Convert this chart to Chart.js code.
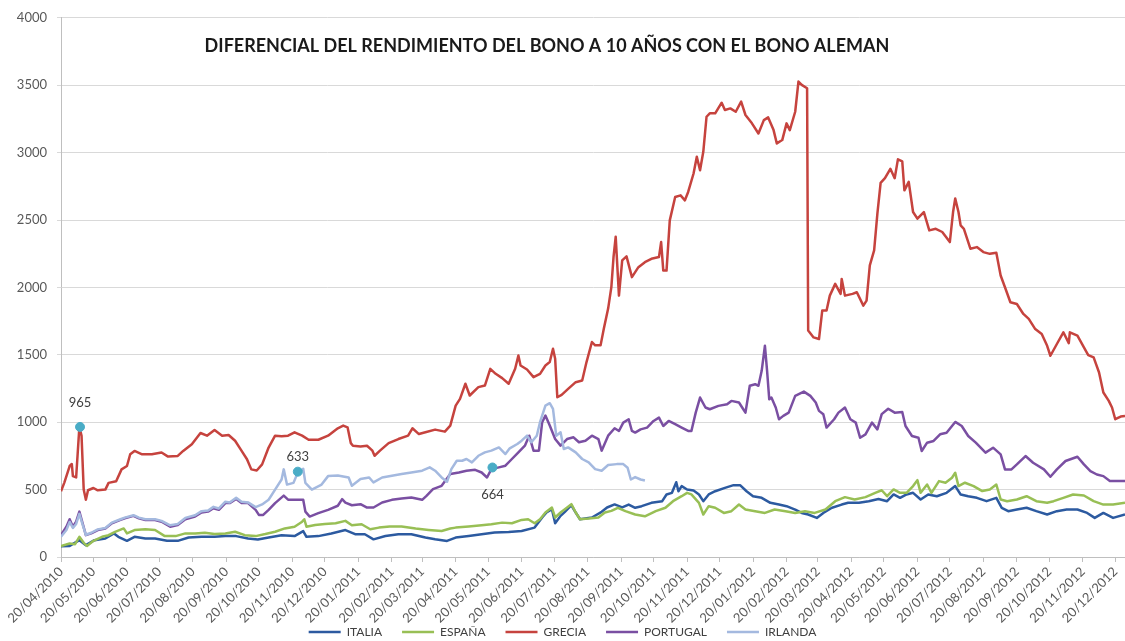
<!DOCTYPE html>
<html>
<head>
<meta charset="utf-8">
<script src="https://cdn.jsdelivr.net/npm/chart.js@4.4.1/dist/chart.umd.min.js"></script>
<style>
  html, body { margin: 0; padding: 0; background: #fff; }
  #wrap { width: 1125px; height: 641px; }
</style>
</head>
<body>
<div id="wrap"><canvas id="spreadChart" width="1125" height="641"></canvas></div>
<script>
// Chart title (drawn inside the plot area)
const chartTitle = 'DIFERENCIAL DEL RENDIMIENTO DEL BONO A 10 AÑOS CON EL BONO ALEMAN';

// X axis: days counted from the first tick date
const startDate = '20/04/2010';
const tickLabels = [
    '20/04/2010', '20/05/2010', '20/06/2010', '20/07/2010', '20/08/2010', '20/09/2010',
    '20/10/2010', '20/11/2010', '20/12/2010', '20/01/2011', '20/02/2011', '20/03/2011',
    '20/04/2011', '20/05/2011', '20/06/2011', '20/07/2011', '20/08/2011', '20/09/2011',
    '20/10/2011', '20/11/2011', '20/12/2011', '20/01/2012', '20/02/2012', '20/03/2012',
    '20/04/2012', '20/05/2012', '20/06/2012', '20/07/2012', '20/08/2012', '20/09/2012',
    '20/10/2012', '20/11/2012', '20/12/2012'
];
const lastDay = 984;

// Y axis
const yMin = 0;
const yMax = 4000;
const yStep = 500;

const seriesNames = ['ITALIA', 'ESPAÑA', 'GRECIA', 'PORTUGAL', 'IRLANDA'];

// [day since 20/04/2010, spread in basis points]
const italia = [
    [0,80],[8,82],[17,125],[23,88],[31,125],[41,137],[49,175],[53,150],[61,120],[68,150],[78,137],[87,137],
    [98,120],[108,120],[118,145],[130,150],[142,150],[152,155],[162,155],[173,137],[182,130],[192,145],[204,162],
    [216,155],[224,192],[227,150],[238,155],[250,175],[263,200],[272,169],[281,169],[289,131],[300,156],[312,169],
    [324,169],[337,144],[346,131],[357,119],[365,144],[377,156],[389,169],[401,181],[414,186],[426,193],[438,218],
    [445,293],[449,330],[454,355],[457,250],[462,305],[466,335],[472,384],[476,330],[480,280],[491,293],[500,335],
    [505,367],[512,390],[519,368],[525,389],[531,365],[537,377],[546,402],[556,414],[560,464],[565,476],[569,555],
    [571,488],[574,526],[579,501],[585,494],[590,464],[594,414],[599,464],[605,488],[614,513],[622,533],[628,533],
    [634,488],[640,451],[648,439],[656,402],[664,389],[671,377],[679,352],[685,327],[691,315],[699,290],[705,327],
    [713,365],[722,389],[728,402],[738,402],[747,414],[756,430],[764,414],[770,464],[776,439],[782,464],[788,476],
    [795,427],[802,464],[810,451],[819,476],[827,526],[832,464],[839,451],[847,439],[856,414],[865,439],[870,365],
    [876,340],[884,352],[893,365],[902,340],[912,315],[921,340],[930,352],[940,352],[949,327],[956,290],[964,327],
    [973,290],[984,315]
];
const espana = [
    [0,82],[8,100],[13,95],[17,150],[21,105],[24,82],[30,120],[38,150],[44,162],[50,187],[58,212],[61,175],
    [68,200],[78,205],[87,200],[96,155],[106,155],[115,175],[124,175],[133,180],[142,170],[152,175],[161,187],
    [170,162],[180,155],[189,170],[198,187],[207,212],[216,225],[223,262],[225,280],[227,225],[235,237],[244,245],
    [254,250],[263,268],[269,235],[278,243],[286,206],[294,218],[304,226],[315,226],[328,211],[340,201],[352,193],
    [360,211],[365,218],[377,226],[389,235],[398,243],[408,255],[417,250],[426,275],[432,280],[438,250],[443,280],
    [448,330],[454,367],[457,293],[462,330],[466,355],[472,392],[476,330],[480,280],[488,285],[497,293],[503,330],
    [509,342],[515,365],[522,340],[531,315],[540,302],[550,340],[559,365],[566,414],[574,451],[579,476],[583,464],
    [590,402],[594,315],[599,377],[605,365],[613,327],[620,340],[627,389],[633,352],[642,340],[651,327],[660,352],
    [670,340],[679,327],[688,340],[697,327],[707,352],[716,414],[725,444],[734,427],[744,444],[753,476],[759,495],
    [764,451],[770,501],[776,476],[782,476],[788,526],[792,570],[795,476],[801,538],[805,476],[812,563],[818,551],
    [824,588],[827,625],[830,526],[836,551],[844,526],[852,489],[859,501],[865,538],[869,427],[875,414],[884,427],
    [893,451],[902,414],[912,402],[918,414],[927,439],[936,464],[946,456],[955,414],[964,389],[973,389],[984,402]
];
const grecia = [
    [0,488],[3,550],[8,675],[10,690],[11,600],[14,590],[17,965],[19,900],[21,500],[23,425],[25,495],[30,512],
    [34,495],[41,500],[44,550],[51,562],[56,650],[61,675],[64,762],[68,787],[75,762],[84,762],[93,775],[99,745],
    [108,750],[113,787],[121,837],[129,920],[135,900],[142,942],[149,900],[155,905],[161,862],[166,800],[172,725],
    [176,650],[181,642],[186,687],[192,812],[198,900],[204,895],[210,900],[216,925],[223,900],[229,870],[238,870],
    [247,900],[256,955],[261,975],[265,962],[268,845],[270,825],[277,820],[283,825],[288,789],[290,751],[295,789],
    [303,845],[312,875],[321,900],[325,955],[331,912],[337,925],[346,945],[355,930],[360,975],[365,1123],[369,1173],
    [374,1285],[378,1198],[386,1260],[392,1272],[397,1396],[402,1359],[408,1327],[414,1285],[420,1396],[423,1495],
    [425,1421],[431,1391],[437,1334],[443,1359],[448,1421],[452,1446],[455,1545],[457,1470],[459,1185],[463,1203],
    [469,1247],[476,1297],[482,1309],[486,1446],[491,1595],[494,1570],[499,1570],[502,1694],[506,1843],[509,2004],
    [511,2227],[513,2376],[516,1939],[519,2200],[523,2230],[528,2076],[534,2150],[540,2187],[546,2212],[553,2225],
    [555,2336],[557,2125],[560,2125],[563,2497],[568,2671],[573,2683],[577,2646],[580,2708],[585,2845],[588,2969],
    [591,2869],[594,3006],[597,3266],[600,3291],[605,3291],[611,3370],[614,3316],[619,3328],[624,3303],[629,3378],
    [633,3279],[639,3217],[645,3142],[650,3241],[654,3261],[659,3167],[662,3068],[667,3093],[671,3217],[674,3167],
    [679,3303],[682,3527],[685,3502],[690,3477],[691,1680],[696,1629],[701,1617],[704,1828],[708,1828],[711,1939],
    [716,2026],[721,1952],[722,2063],[725,1939],[732,1952],[736,1964],[742,1865],[745,1902],[748,2163],[752,2274],
    [755,2547],[758,2775],[762,2810],[767,2880],[771,2810],[774,2950],[778,2935],[780,2720],[784,2783],[788,2559],
    [792,2510],[798,2559],[803,2423],[809,2435],[815,2411],[822,2336],[825,2559],[827,2659],[830,2559],[832,2460],
    [835,2435],[841,2287],[847,2299],[853,2262],[859,2249],[865,2257],[869,2088],[873,2001],[878,1890],[884,1877],
    [890,1803],[895,1766],[901,1691],[907,1654],[912,1567],[915,1493],[921,1580],[927,1667],[932,1587],[933,1667],
    [940,1642],[946,1555],[950,1498],[955,1481],[960,1369],[964,1220],[969,1158],[972,1109],[975,1022],[980,1042],
    [984,1047]
];
const portugal = [
    [0,162],[5,225],[8,280],[11,225],[14,262],[17,337],[20,250],[23,162],[28,175],[34,200],[41,212],[47,250],
    [55,275],[59,287],[67,305],[72,287],[78,275],[87,275],[93,262],[101,225],[108,237],[115,280],[124,300],[130,330],
    [136,337],[141,362],[146,350],[152,400],[156,400],[162,430],[167,400],[173,400],[180,350],[183,312],[187,312],
    [192,350],[198,400],[206,455],[210,425],[216,425],[224,425],[226,337],[230,300],[238,325],[247,350],[256,380],
    [260,429],[263,404],[269,384],[277,392],[283,367],[289,367],[297,404],[306,424],[315,434],[324,441],[334,424],
    [338,454],[344,503],[352,528],[360,615],[368,627],[375,640],[383,647],[389,627],[394,590],[398,652],[405,665],
    [411,677],[417,727],[423,776],[429,826],[433,900],[437,789],[442,789],[445,1000],[448,1049],[452,975],[457,875],
    [462,826],[468,875],[474,888],[479,851],[485,863],[491,900],[497,875],[500,789],[506,900],[512,955],[516,935],
    [520,997],[525,1022],[528,935],[531,923],[536,947],[542,960],[548,1009],[553,1034],[557,972],[562,1009],[568,985],
    [574,960],[580,935],[583,935],[587,1071],[591,1183],[596,1109],[600,1096],[608,1121],[616,1133],[620,1158],
    [627,1146],[631,1096],[633,1071],[637,1270],[642,1282],[645,1270],[648,1381],[651,1567],[653,1381],[655,1170],
    [657,1183],[661,1109],[664,1022],[668,1047],[673,1071],[679,1195],[687,1227],[693,1195],[698,1146],[701,1084],
    [705,1059],[708,960],[715,1022],[719,1071],[725,1109],[730,1022],[735,997],[739,885],[744,910],[750,997],
    [755,947],[759,1060],[765,1100],[771,1071],[778,1075],[781,972],[787,898],[793,885],[796,786],[801,848],
    [807,861],[813,910],[819,922],[827,1002],[833,972],[839,898],[846,848],[855,774],[862,811],[869,761],[873,650],
    [879,650],[884,687],[892,749],[899,699],[909,650],[915,595],[921,650],[929,712],[940,744],[946,687],[952,637],
    [958,612],[964,600],[970,563],[978,563],[984,563]
];
const irlanda = [
    [0,150],[5,200],[8,260],[11,215],[14,245],[17,320],[20,240],[23,165],[28,180],[34,205],[41,215],[47,255],
    [55,280],[59,292],[67,310],[72,292],[78,280],[87,280],[93,268],[101,235],[108,245],[115,290],[124,310],[130,340],
    [136,345],[141,372],[146,360],[152,410],[156,405],[162,440],[167,410],[173,405],[180,370],[186,390],[192,425],
    [198,500],[204,575],[206,650],[209,537],[215,550],[219,627],[224,655],[226,550],[232,500],[241,537],[247,600],
    [256,605],[266,590],[269,528],[277,578],[285,590],[289,553],[297,590],[306,603],[315,615],[324,627],[334,640],
    [341,665],[346,640],[352,590],[357,558],[361,652],[366,714],[371,714],[375,727],[380,702],[386,751],[392,776],
    [398,789],[405,813],[411,764],[415,806],[422,838],[426,863],[431,900],[435,851],[440,900],[443,1000],[448,1123],
    [452,1141],[455,1099],[458,900],[462,925],[465,801],[469,813],[476,776],[482,727],[488,702],[494,652],[500,640],
    [506,682],[514,689],[520,689],[524,662],[527,575],[531,593],[536,575],[540,568]
];

// Labelled points
const markerDays = [17.6, 219, 399];
const markerValues = [965, 633, 664];

const seriesColors = ['#2c5aa0', '#98bf55', '#c6433e', '#7a4fa2', '#a4b9df'];
const markerColor = '#4aacc6';
const fontFamily = 'Lato, "Open Sans", sans-serif';

// Convert a dd/mm/yyyy label into days since the start date
function dayOffset(label) {
    const toUtc = function(s) {
        const p = s.split('/');
        return Date.UTC(+p[2], +p[1] - 1, +p[0]);
    };
    return Math.round((toUtc(label) - toUtc(startDate)) / 86400000);
}
const tickDays = tickLabels.map(dayOffset);

function toPoints(pairs) {
    return pairs.map(function(p) { return { x: p[0], y: p[1] }; });
}

// Title drawn inside the chart area
const insideTitle = {
    id: 'insideTitle',
    afterDraw: function(chart) {
        const ctx = chart.ctx;
        const area = chart.chartArea;
        ctx.save();
        ctx.font = 'bold 18px ' + fontFamily;
        ctx.fillStyle = '#1a1a1a';
        ctx.textAlign = 'center';
        ctx.textBaseline = 'middle';
        ctx.fillText(chartTitle, area.left + 486, area.top + 28);
        ctx.restore();
    }
};

// Value labels next to the marker points
const markerLabels = {
    id: 'markerLabels',
    afterDatasetsDraw: function(chart) {
        const offsets = [-24, -15, 27];
        const meta = chart.getDatasetMeta(seriesNames.length);
        const ctx = chart.ctx;
        ctx.save();
        ctx.font = '13px ' + fontFamily;
        ctx.fillStyle = '#404040';
        ctx.textAlign = 'center';
        ctx.textBaseline = 'middle';
        meta.data.forEach(function(pt, i) {
            ctx.fillText(String(markerValues[i]), pt.x, pt.y + offsets[i]);
        });
        ctx.restore();
    }
};

// The x labels hang below the axis box into the legend band; widen their clip box
const labelRoom = {
    id: 'labelRoom',
    beforeDraw: function(chart) {
        chart.scales.x.bottom = chart.height;
    }
};

const seriesData = [italia, espana, grecia, portugal, irlanda];

const datasets = seriesNames.map(function(name, i) {
    return {
        label: name,
        data: toPoints(seriesData[i]),
        borderColor: seriesColors[i],
        backgroundColor: seriesColors[i],
        borderWidth: 2.5,
        pointRadius: 0,
        pointStyle: 'line',
        tension: 0,
        borderJoinStyle: 'round',
        order: seriesNames.length - i
    };
});

datasets.push({
    label: 'marcas',
    type: 'scatter',
    data: markerDays.map(function(d, i) { return { x: d, y: markerValues[i] }; }),
    backgroundColor: markerColor,
    borderColor: markerColor,
    pointRadius: 4.5,
    order: -1
});

const axisColor = '#595959';

new Chart(document.getElementById('spreadChart'), {
    type: 'line',
    data: { datasets: datasets },
    options: {
        responsive: false,
        animation: false,
        layout: { autoPadding: false, padding: { top: 14, right: 0, left: 0, bottom: -7 } },
        plugins: {
            tooltip: { enabled: false },
            legend: {
                position: 'bottom',
                labels: {
                    usePointStyle: true,
                    pointStyle: 'line',
                    pointStyleWidth: 32,
                    padding: 20,
                    color: '#404040',
                    font: { family: fontFamily, size: 12 },
                    filter: function(item) { return item.datasetIndex < seriesNames.length; },
                    sort: function(a, b) { return a.datasetIndex - b.datasetIndex; }
                }
            }
        },
        scales: {
            x: {
                type: 'linear',
                min: 0,
                max: lastDay,
                afterBuildTicks: function(scale) {
                    scale.ticks = tickDays.map(function(v) { return { value: v }; });
                },
                afterFit: function(scale) {
                    scale.height = 49;
                    scale.paddingRight = 0;
                },
                ticks: {
                    autoSkip: false,
                    minRotation: 45,
                    maxRotation: 45,
                    padding: 2,
                    color: axisColor,
                    font: { family: fontFamily, size: 13 },
                    callback: function(value, index) { return tickLabels[index]; }
                },
                grid: { drawOnChartArea: false, color: '#bfbfbf', tickLength: 5 },
                border: { color: '#bfbfbf' }
            },
            y: {
                min: yMin,
                max: yMax,
                afterFit: function(scale) { scale.width = 61; },
                ticks: {
                    stepSize: yStep,
                    padding: 10,
                    color: axisColor,
                    font: { family: fontFamily, size: 13 },
                    callback: function(value) { return String(value); }
                },
                grid: { color: '#d9d9d9', tickLength: 4 },
                border: { color: '#bfbfbf' }
            }
        }
    },
    plugins: [labelRoom, insideTitle, markerLabels]
});
</script>
</body>
</html>
